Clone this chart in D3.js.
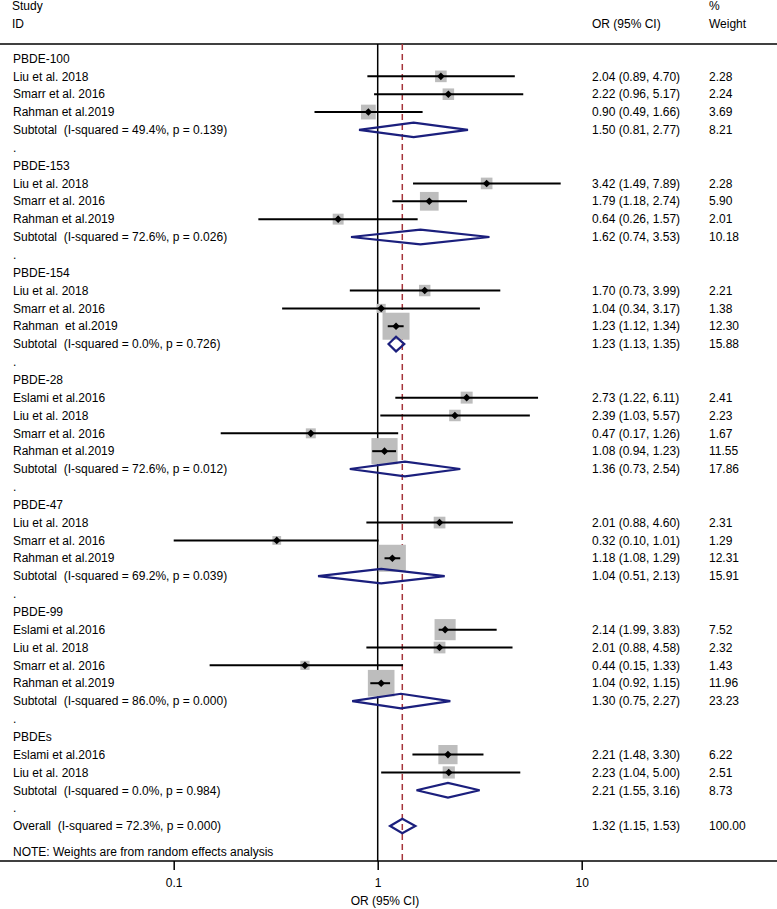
<!DOCTYPE html>
<html>
<head>
<meta charset="utf-8">
<script src="https://cdn.jsdelivr.net/npm/d3@7"></script>
<style>
  html, body { margin: 0; padding: 0; background: #fff; }
  svg { display: block; }
  text { font-family: "Liberation Sans", Arial, sans-serif; font-size: 12px; fill: #000; white-space: pre; }
</style>
</head>
<body>
<svg id="chart" width="777" height="909"></svg>
<script>
// ---- Data ----
const groups = ["PBDE-100", "PBDE-153", "PBDE-154", "PBDE-28", "PBDE-47", "PBDE-99", "PBDEs"];

const studyGroup  = ["PBDE-100","PBDE-100","PBDE-100",
                     "PBDE-153","PBDE-153","PBDE-153",
                     "PBDE-154","PBDE-154","PBDE-154",
                     "PBDE-28","PBDE-28","PBDE-28","PBDE-28",
                     "PBDE-47","PBDE-47","PBDE-47",
                     "PBDE-99","PBDE-99","PBDE-99","PBDE-99",
                     "PBDEs","PBDEs"];
const studyLabel  = ["Liu et al. 2018","Smarr et al. 2016","Rahman et al.2019",
                     "Liu et al. 2018","Smarr et al. 2016","Rahman et al.2019",
                     "Liu et al. 2018","Smarr et al. 2016","Rahman  et al.2019",
                     "Eslami et al.2016","Liu et al. 2018","Smarr et al. 2016","Rahman et al.2019",
                     "Liu et al. 2018","Smarr et al. 2016","Rahman et al.2019",
                     "Eslami et al.2016","Liu et al. 2018","Smarr et al. 2016","Rahman et al.2019",
                     "Eslami et al.2016","Liu et al. 2018"];
const studyOR     = [2.04,2.22,0.90, 3.42,1.79,0.64, 1.70,1.04,1.23, 2.73,2.39,0.47,1.08, 2.01,0.32,1.18, 2.14,2.01,0.44,1.04, 2.21,2.23];
const studyLo     = [0.89,0.96,0.49, 1.49,1.18,0.26, 0.73,0.34,1.12, 1.22,1.03,0.17,0.94, 0.88,0.10,1.08, 1.99,0.88,0.15,0.92, 1.48,1.04];
const studyHi     = [4.70,5.17,1.66, 7.89,2.74,1.57, 3.99,3.17,1.34, 6.11,5.57,1.26,1.23, 4.60,1.01,1.29, 3.83,4.58,1.33,1.15, 3.30,5.00];
const studyWeight = [2.28,2.24,3.69, 2.28,5.90,2.01, 2.21,1.38,12.30, 2.41,2.23,1.67,11.55, 2.31,1.29,12.31, 7.52,2.32,1.43,11.96, 6.22,2.51];

const subOR     = [1.50, 1.62, 1.23, 1.36, 1.04, 1.30, 2.21];
const subLo     = [0.81, 0.74, 1.13, 0.73, 0.51, 0.75, 1.55];
const subHi     = [2.77, 3.53, 1.35, 2.54, 2.13, 2.27, 3.16];
const subWeight = [8.21, 10.18, 15.88, 17.86, 15.91, 23.23, 8.73];
const subI2     = ["49.4%", "72.6%", "0.0%", "72.6%", "69.2%", "86.0%", "0.0%"];
const subP      = ["0.139", "0.026", "0.726", "0.012", "0.039", "0.000", "0.984"];

const overallOR = 1.32, overallLo = 1.15, overallHi = 1.53, overallWeight = 100.00;
const overallI2 = "72.3%", overallP = "0.000";

const tickValues = [0.1, 1, 10];
const noteText = "NOTE: Weights are from random effects analysis";

// ---- Build rows ----
const rows = [];
groups.forEach((g, gi) => {
  rows.push({type: "header", label: g});
  studyGroup.forEach((sg, i) => {
    if (sg === g) rows.push({type: "study", label: studyLabel[i], or: studyOR[i], lo: studyLo[i], hi: studyHi[i], w: studyWeight[i]});
  });
  rows.push({type: "sub", label: `Subtotal  (I-squared = ${subI2[gi]}, p = ${subP[gi]})`, or: subOR[gi], lo: subLo[gi], hi: subHi[gi], w: subWeight[gi]});
  rows.push({type: "dot", label: "."});
});
rows.push({type: "sub", overall: true, label: `Overall  (I-squared = ${overallI2}, p = ${overallP})`, or: overallOR, lo: overallLo, hi: overallHi, w: overallWeight});

// ---- Layout ----
const W = 777, H = 909;
const svg = d3.select("#chart");
const x = d3.scaleLog().domain([0.1, 10]).range([173.7, 581.7]);
const y = d3.scaleLinear().domain([0, rows.length - 1]).range([58.5, 826]);
const topRule = 44, axisY = 861;
const colText = 13, colOR = 592, colW = 709;
const f2 = d3.format(".2f");
const navy = "#1b1f7d", red = "#a5333a", gray = "#bdbdbd";

// header
svg.append("text").attr("x", 12).attr("y", 6).attr("dy", "0.35em").text("Study");
svg.append("text").attr("x", 12).attr("y", 24).attr("dy", "0.35em").text("ID");
svg.append("text").attr("x", colOR).attr("y", 24).attr("dy", "0.35em").text("OR (95% CI)");
svg.append("text").attr("x", colW).attr("y", 6).attr("dy", "0.35em").text("%");
svg.append("text").attr("x", colW).attr("y", 24).attr("dy", "0.35em").text("Weight");

// rules
svg.append("line").attr("x1", 0).attr("x2", W).attr("y1", topRule).attr("y2", topRule)
  .attr("stroke", "#000").attr("stroke-width", 1.5);

// reference lines
svg.append("line").attr("x1", x(1)).attr("x2", x(1)).attr("y1", topRule).attr("y2", axisY)
  .attr("stroke", "#000").attr("stroke-width", 1.5);
svg.append("line").attr("x1", x(overallOR)).attr("x2", x(overallOR)).attr("y1", topRule).attr("y2", axisY)
  .attr("stroke", red).attr("stroke-width", 1.5).attr("stroke-dasharray", "6,4");

// rows
const g = svg.append("g");
rows.forEach((r, i) => {
  const yy = y(i);
  g.append("text").attr("x", colText).attr("y", yy).attr("dy", "0.35em").text(r.label);
  if (r.type === "study") {
    const s = 7.7 * Math.sqrt(r.w);
    g.append("rect").attr("x", x(r.or) - s / 2).attr("y", yy - s / 2).attr("width", s).attr("height", s).attr("fill", gray);
    g.append("line").attr("x1", x(r.lo)).attr("x2", x(r.hi)).attr("y1", yy).attr("y2", yy)
      .attr("stroke", "#000").attr("stroke-width", 2);
    const d = 3.8, cx = x(r.or);
    g.append("path").attr("d", `M${cx - d},${yy}L${cx},${yy - d}L${cx + d},${yy}L${cx},${yy + d}Z`).attr("fill", "#000");
  }
  if (r.type === "sub") {
    const h = 7.3;
    g.append("path")
      .attr("d", `M${x(r.lo)},${yy}L${x(r.or)},${yy - h}L${x(r.hi)},${yy}L${x(r.or)},${yy + h}Z`)
      .attr("fill", "none").attr("stroke", navy).attr("stroke-width", 2.2).attr("stroke-linejoin", "miter");
  }
  if (r.type === "study" || r.type === "sub") {
    g.append("text").attr("x", colOR).attr("y", yy).attr("dy", "0.35em")
      .text(`${f2(r.or)} (${f2(r.lo)}, ${f2(r.hi)})`);
    g.append("text").attr("x", colW).attr("y", yy).attr("dy", "0.35em").text(f2(r.w));
  }
});

// note
svg.append("text").attr("x", colText).attr("y", 852).attr("dy", "0.35em").text(noteText);

// axis
svg.append("line").attr("x1", 0).attr("x2", W).attr("y1", axisY).attr("y2", axisY)
  .attr("stroke", "#000").attr("stroke-width", 1.5);
const axis = d3.axisBottom(x).tickValues(tickValues).tickSize(9).tickPadding(8).tickFormat(d3.format("~g"));
const ax = svg.append("g").attr("transform", `translate(0,${axisY})`).call(axis);
ax.select(".domain").remove();
ax.selectAll(".tick line").attr("stroke", "#000").attr("stroke-width", 1.5);
ax.selectAll(".tick text").style("font-family", '"Liberation Sans", Arial, sans-serif').style("font-size", "12px").attr("fill", "#000");

svg.append("text").attr("x", 385).attr("y", 901).attr("dy", "0.35em").attr("text-anchor", "middle").text("OR (95% CI)");
</script>
</body>
</html>
